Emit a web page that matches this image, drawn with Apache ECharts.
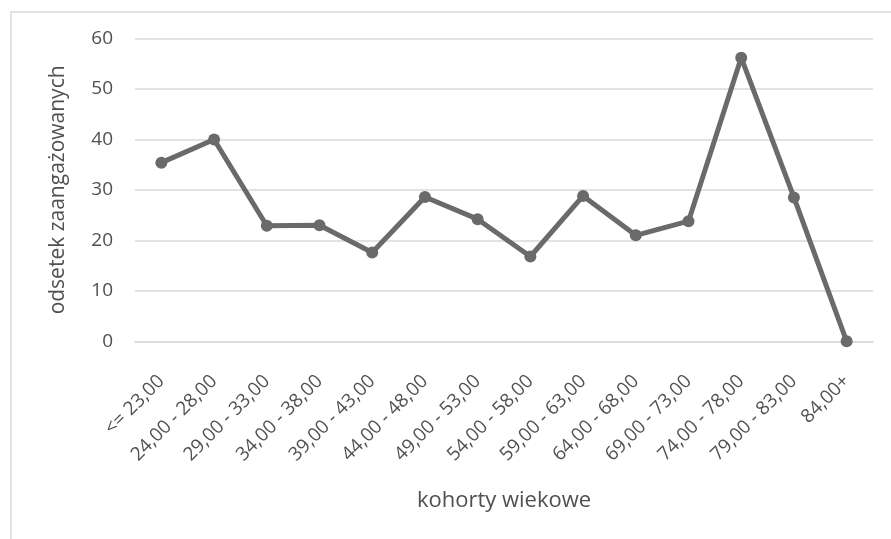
<!DOCTYPE html>
<html>
<head>
<meta charset="utf-8">
<script src="https://cdn.jsdelivr.net/npm/echarts@6/dist/echarts.min.js"></script>
<style>
  html, body { margin: 0; padding: 0; background: #ffffff; }
  #chart { width: 891px; height: 539px; }
</style>
</head>
<body>
<div id="chart"></div>
<script>
// Age cohorts and share of engaged respondents (%)
const cohorts = [
  '<= 23,00', '24,00 - 28,00', '29,00 - 33,00', '34,00 - 38,00',
  '39,00 - 43,00', '44,00 - 48,00', '49,00 - 53,00', '54,00 - 58,00',
  '59,00 - 63,00', '64,00 - 68,00', '69,00 - 73,00', '74,00 - 78,00',
  '79,00 - 83,00', '84,00+'
];
const engagedShare = [35.4, 40.0, 22.9, 23.0, 17.6, 28.6, 24.2, 16.8, 28.8, 21.0, 23.8, 56.2, 28.5, 0];
const yTicks = { min: 0, max: 60, interval: 10 };

const textColor = '#505050';
const fontFamily = '"Open Sans", "Noto Sans", sans-serif';

const chart = echarts.init(document.getElementById('chart'), null, { renderer: 'canvas' });

chart.setOption({
  backgroundColor: '#ffffff',
  animation: false,
  // chart-area frame (right and bottom edges fall outside the view)
  graphic: [{
    type: 'rect',
    shape: { x: 11, y: 12, width: 1000, height: 700 },
    style: { fill: 'none', stroke: '#d9d9d9', lineWidth: 1.5 },
    silent: true
  }],
  grid: { left: 135, right: 18, top: 38.5, bottom: 197.7, containLabel: false },
  xAxis: {
    type: 'category',
    data: cohorts,
    boundaryGap: true,
    name: 'kohorty wiekowe',
    nameLocation: 'middle',
    nameGap: 148,
    nameTextStyle: { color: textColor, fontSize: 22, fontFamily: fontFamily },
    axisLine: { show: true, lineStyle: { color: '#d9d9d9', width: 1.5 } },
    axisTick: { show: false },
    axisLabel: {
      rotate: 45,
      interval: 0,
      margin: 37,
      color: textColor,
      fontSize: 19,
      fontFamily: fontFamily
    }
  },
  yAxis: {
    type: 'value',
    min: yTicks.min,
    max: yTicks.max,
    interval: yTicks.interval,
    name: 'odsetek zaangażowanych',
    nameLocation: 'middle',
    nameRotate: 90,
    nameGap: 66,
    nameTextStyle: { color: textColor, fontSize: 21, fontFamily: fontFamily },
    axisLine: { show: false },
    axisTick: { show: false },
    axisLabel: { margin: 22, color: textColor, fontSize: 19, fontFamily: fontFamily },
    splitLine: { show: true, lineStyle: { color: '#d9d9d9', width: 1.5 } }
  },
  series: [{
    type: 'line',
    data: engagedShare,
    symbol: 'circle',
    symbolSize: 12,
    lineStyle: { color: '#6a6a6a', width: 5 },
    itemStyle: { color: '#6a6a6a' }
  }]
});
</script>
</body>
</html>
